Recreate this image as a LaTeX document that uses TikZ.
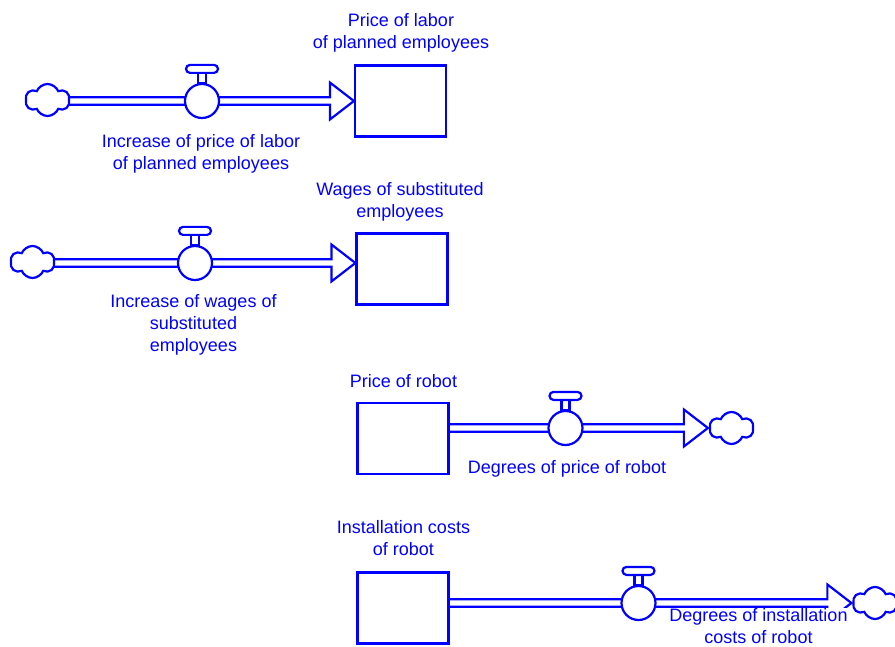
\documentclass[tikz,border=0pt]{standalone}
\usepackage{fontspec}
\setmainfont{Liberation Sans}
\usetikzlibrary{calc,shapes.symbols,backgrounds}
\begin{document}
\begin{tikzpicture}[x=1pt,y=-1pt,
  line/.style={draw=blue,line width=2.2pt},
  stock/.style={line,fill=white,rectangle,minimum width=91pt,minimum height=71pt,inner sep=0pt},
  valve/.style={line,fill=white,circle,minimum size=34pt,inner sep=0pt},
  cloudn/.style={line,fill=white,cloud,cloud puffs=6,cloud puff arc=135,cloud ignores aspect,minimum width=44pt,minimum height=32pt,inner sep=0pt},
  lbl/.style={text=blue,font=\fontsize{18}{22}\selectfont,align=center,inner sep=0pt,anchor=north},
  pipe/.style={line,line join=miter}]
\useasboundingbox (0,0) rectangle (895,647);
\newcommand\mkvalve[1]{%
  \draw[line,fill=white] ($(#1.north)+(-4,0)$) rectangle ($(#1.north)+(4,-10)$);
  \draw[line,fill=white,rounded corners=4pt] ($(#1.north)+(-16,-10)$) rectangle ($(#1.north)+(16,-18)$);}
\newcommand\mkpipe[2]{%
  \draw[pipe] ($(#1)+(0,3.8)$) -- ($(#2)+(-24,3.8)$) -- ($(#2)+(-24,18.5)$) -- (#2)
    -- ($(#2)+(-24,-18.5)$) -- ($(#2)+(-24,-3.8)$) -- ($(#1)+(0,-3.8)$);}
% nodes
\node[stock] (s1) at (400.5,101) {};
\node[stock] (s2) at (402,269) {};
\node[stock] (s3) at (403,438.5) {};
\node[stock] (s4) at (403,608) {};
\node[valve] (v1) at (202,101) {};
\node[valve] (v2) at (195,263) {};
\node[valve] (v3) at (565.5,428) {};
\node[valve] (v4) at (638.5,603) {};
\node[cloudn] (c1) at (47.5,100) {};
\node[cloudn] (c2) at (32.5,262) {};
\node[cloudn] (c3) at (731.5,428) {};
\node[cloudn] (c4) at (875,603) {};
\mkvalve{v1}\mkvalve{v2}\mkvalve{v3}\mkvalve{v4}
% pipes
\begin{scope}[on background layer]
  \coordinate (a1) at (c1 |- v1); \coordinate (t1) at (s1.west |- v1);
  \coordinate (a2) at (c2 |- v2); \coordinate (t2) at (s2.west |- v2);
  \coordinate (a3) at (s3 |- v3); \coordinate (t3) at ([xshift=-1pt]c3.west |- v3);
  \coordinate (a4) at (s4 |- v4); \coordinate (t4) at ([xshift=-1pt]c4.west |- v4);
  \mkpipe{a1}{t1}
  \mkpipe{a2}{t2}
  \mkpipe{a3}{t3}
  \mkpipe{a4}{t4}
\end{scope}
% labels
\node[lbl] (ls1) at (401,13) {Price of labor\\of planned employees};
\node[lbl] (lv1) at (201,134) {Increase of price of labor\\of planned employees};
\node[lbl] (ls2) at (400,182) {Wages of substituted\\employees};
\node[lbl] (lv2) at (193.5,294) {Increase of wages of\\substituted\\employees};
\node[lbl] (ls3) at (403.5,374) {Price of robot};
\node[lbl] (lv3) at (567,460) {Degrees of price of robot};
\node[lbl] (ls4) at (403.5,520) {Installation costs\\of robot};
\node[lbl,fill=white,inner xsep=3pt,inner ysep=0pt] (lv4) at (758.5,608) {Degrees of installation\\costs of robot};
\end{tikzpicture}
\end{document}
